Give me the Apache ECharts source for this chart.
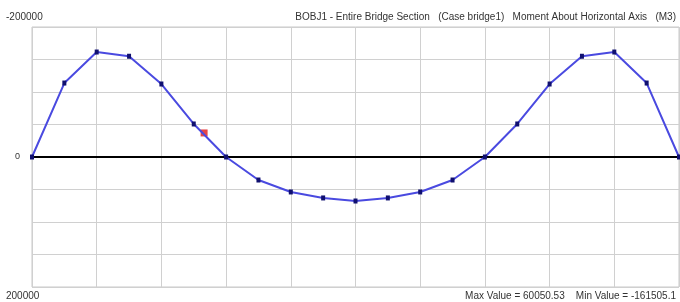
<!DOCTYPE html>
<html>
<head>
<meta charset="utf-8">
<script src="https://cdn.jsdelivr.net/npm/echarts@6/dist/echarts.min.js"></script>
<style>
  html, body { margin: 0; padding: 0; background: #fff; }
  #chart { width: 680px; height: 302px; }
</style>
</head>
<body>
<div id="chart"></div>
<script>
// stations along the bridge (grid divisions 0..10)
const stations = [0, 0.5, 1, 1.5, 2, 2.5, 3, 3.5, 4, 4.5, 5, 5.5, 6, 6.5, 7, 7.5, 8, 8.5, 9, 9.5, 10]
// moment M3 at each station
const moments = [0, -113800, -161505, -155000, -112300, -50800, 0, 35400, 53800, 63000, 67700,
  63000, 53800, 35400, 0, -50800, -112300, -155000, -161505, -113800, 0]
// highlighted (red) point
const cursorStation = [2.66]
const cursorMoment = [-37000]

const yTickLabels = ['-200000', '0', '200000']
const titleText = 'BOBJ1 - Entire Bridge Section   (Case bridge1)   Moment About Horizontal Axis   (M3)'
const footerText = 'Max Value = 60050.53    Min Value = -161505.1'

const chart = echarts.init(document.getElementById('chart'))

const textStyle = { fontFamily: 'Liberation Sans', fontSize: 10, fill: '#333' }

chart.setOption({
  animation: false,
  grid: {
    left: 32,
    right: 1,
    top: 27,
    bottom: 15,
    show: true,
    borderColor: '#c8c8c8',
    borderWidth: 1
  },
  xAxis: {
    type: 'value',
    min: 0,
    max: 10,
    interval: 1,
    axisLine: { onZero: true, lineStyle: { color: '#000', width: 2 } },
    axisTick: { show: false },
    axisLabel: { show: false },
    splitLine: { lineStyle: { color: '#d0d0d0' } }
  },
  yAxis: {
    type: 'value',
    inverse: true,
    min: -200000,
    max: 200000,
    interval: 50000,
    axisLine: { show: false },
    axisTick: { show: false },
    axisLabel: {
      fontFamily: 'Liberation Sans',
      fontSize: 9,
      color: '#333',
      margin: 12,
      formatter: v => (v === 0 ? yTickLabels[1] : '')
    },
    splitLine: { lineStyle: { color: '#d0d0d0' } }
  },
  graphic: [
    { type: 'text', left: 6, top: 12, style: Object.assign({ text: yTickLabels[0] }, textStyle) },
    { type: 'text', left: 6, top: 291, style: Object.assign({ text: yTickLabels[2] }, textStyle) },
    { type: 'text', right: 4, top: 12, style: Object.assign({ text: titleText }, textStyle) },
    { type: 'text', right: 4, top: 291, style: Object.assign({ text: footerText }, textStyle) }
  ],
  series: [
    {
      type: 'line',
      data: stations.map((s, i) => [s, moments[i]]),
      clip: false,
      symbol: 'rect',
      symbolSize: [4, 5],
      lineStyle: { color: '#4a4ae0', width: 2 },
      itemStyle: { color: '#101070' }
    },
    {
      type: 'scatter',
      data: cursorStation.map((s, i) => [s, cursorMoment[i]]),
      symbol: 'rect',
      symbolSize: 7,
      itemStyle: { color: '#e01818' }
    }
  ]
})
</script>
</body>
</html>
